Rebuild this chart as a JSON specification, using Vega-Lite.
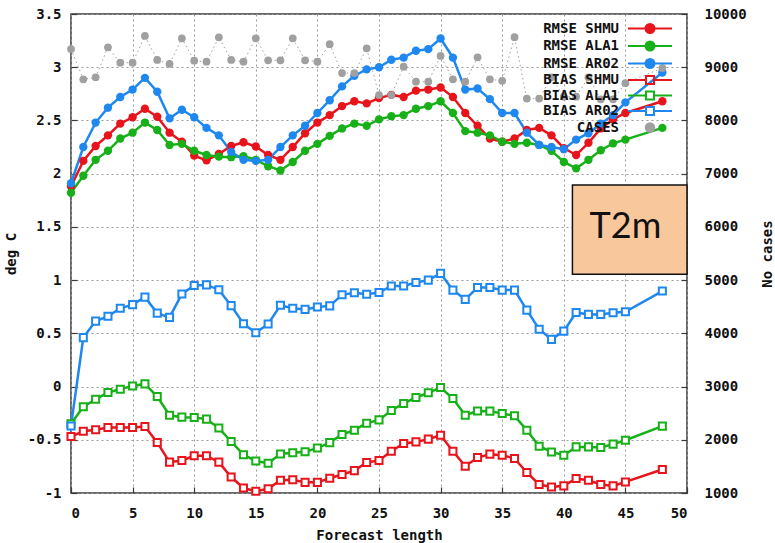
{
  "$schema": "https://vega.github.io/schema/vega-lite/v6.json",
  "width": 616,
  "height": 479,
  "autosize": {"type": "none"},
  "padding": {"left": 71, "top": 14, "right": 88, "bottom": 50},
  "background": "white",
  "config": {
    "view": {"stroke": "#3a3a3a", "strokeWidth": 1.5},
    "axis": {
      "labelFont": "DejaVu Sans Mono",
      "labelFontWeight": "bold",
      "labelFontSize": 14,
      "labelColor": "#111111",
      "titleFont": "DejaVu Sans Mono",
      "titleFontWeight": "bold",
      "titleFontSize": 14,
      "titleColor": "#111111",
      "domain": false,
      "tickColor": "#3a3a3a",
      "tickWidth": 1.2,
      "tickSize": -6,
      "gridColor": "#9a9a9a",
      "gridDash": [2, 3],
      "gridWidth": 1,
      "labelExpr": "'' + datum.value"
    }
  },
  "data": {
    "values": [
      {"h": 0, "series": "RMSE SHMU", "value": 1.88},
      {"h": 1, "series": "RMSE SHMU", "value": 2.12},
      {"h": 2, "series": "RMSE SHMU", "value": 2.26},
      {"h": 3, "series": "RMSE SHMU", "value": 2.36},
      {"h": 4, "series": "RMSE SHMU", "value": 2.47},
      {"h": 5, "series": "RMSE SHMU", "value": 2.53},
      {"h": 6, "series": "RMSE SHMU", "value": 2.61},
      {"h": 7, "series": "RMSE SHMU", "value": 2.535},
      {"h": 8, "series": "RMSE SHMU", "value": 2.385},
      {"h": 9, "series": "RMSE SHMU", "value": 2.3},
      {"h": 10, "series": "RMSE SHMU", "value": 2.17},
      {"h": 11, "series": "RMSE SHMU", "value": 2.125},
      {"h": 12, "series": "RMSE SHMU", "value": 2.185},
      {"h": 13, "series": "RMSE SHMU", "value": 2.26},
      {"h": 14, "series": "RMSE SHMU", "value": 2.295},
      {"h": 15, "series": "RMSE SHMU", "value": 2.255},
      {"h": 16, "series": "RMSE SHMU", "value": 2.175},
      {"h": 17, "series": "RMSE SHMU", "value": 2.13},
      {"h": 18, "series": "RMSE SHMU", "value": 2.25},
      {"h": 19, "series": "RMSE SHMU", "value": 2.38},
      {"h": 20, "series": "RMSE SHMU", "value": 2.48},
      {"h": 21, "series": "RMSE SHMU", "value": 2.55},
      {"h": 22, "series": "RMSE SHMU", "value": 2.635},
      {"h": 23, "series": "RMSE SHMU", "value": 2.68},
      {"h": 24, "series": "RMSE SHMU", "value": 2.66},
      {"h": 25, "series": "RMSE SHMU", "value": 2.71},
      {"h": 26, "series": "RMSE SHMU", "value": 2.74},
      {"h": 27, "series": "RMSE SHMU", "value": 2.72},
      {"h": 28, "series": "RMSE SHMU", "value": 2.78},
      {"h": 29, "series": "RMSE SHMU", "value": 2.79},
      {"h": 30, "series": "RMSE SHMU", "value": 2.81},
      {"h": 31, "series": "RMSE SHMU", "value": 2.72},
      {"h": 32, "series": "RMSE SHMU", "value": 2.57},
      {"h": 33, "series": "RMSE SHMU", "value": 2.45},
      {"h": 34, "series": "RMSE SHMU", "value": 2.33},
      {"h": 35, "series": "RMSE SHMU", "value": 2.3},
      {"h": 36, "series": "RMSE SHMU", "value": 2.33},
      {"h": 37, "series": "RMSE SHMU", "value": 2.41},
      {"h": 38, "series": "RMSE SHMU", "value": 2.43},
      {"h": 39, "series": "RMSE SHMU", "value": 2.36},
      {"h": 40, "series": "RMSE SHMU", "value": 2.24},
      {"h": 41, "series": "RMSE SHMU", "value": 2.175},
      {"h": 42, "series": "RMSE SHMU", "value": 2.29},
      {"h": 43, "series": "RMSE SHMU", "value": 2.425},
      {"h": 44, "series": "RMSE SHMU", "value": 2.51},
      {"h": 45, "series": "RMSE SHMU", "value": 2.57},
      {"h": 48, "series": "RMSE SHMU", "value": 2.68},

      {"h": 0, "series": "RMSE ALA1", "value": 1.82},
      {"h": 1, "series": "RMSE ALA1", "value": 1.98},
      {"h": 2, "series": "RMSE ALA1", "value": 2.13},
      {"h": 3, "series": "RMSE ALA1", "value": 2.215},
      {"h": 4, "series": "RMSE ALA1", "value": 2.33},
      {"h": 5, "series": "RMSE ALA1", "value": 2.385},
      {"h": 6, "series": "RMSE ALA1", "value": 2.48},
      {"h": 7, "series": "RMSE ALA1", "value": 2.41},
      {"h": 8, "series": "RMSE ALA1", "value": 2.27},
      {"h": 9, "series": "RMSE ALA1", "value": 2.28},
      {"h": 10, "series": "RMSE ALA1", "value": 2.215},
      {"h": 11, "series": "RMSE ALA1", "value": 2.175},
      {"h": 12, "series": "RMSE ALA1", "value": 2.16},
      {"h": 13, "series": "RMSE ALA1", "value": 2.155},
      {"h": 14, "series": "RMSE ALA1", "value": 2.165},
      {"h": 15, "series": "RMSE ALA1", "value": 2.13},
      {"h": 16, "series": "RMSE ALA1", "value": 2.07},
      {"h": 17, "series": "RMSE ALA1", "value": 2.03},
      {"h": 18, "series": "RMSE ALA1", "value": 2.11},
      {"h": 19, "series": "RMSE ALA1", "value": 2.215},
      {"h": 20, "series": "RMSE ALA1", "value": 2.28},
      {"h": 21, "series": "RMSE ALA1", "value": 2.355},
      {"h": 22, "series": "RMSE ALA1", "value": 2.425},
      {"h": 23, "series": "RMSE ALA1", "value": 2.47},
      {"h": 24, "series": "RMSE ALA1", "value": 2.45},
      {"h": 25, "series": "RMSE ALA1", "value": 2.51},
      {"h": 26, "series": "RMSE ALA1", "value": 2.54},
      {"h": 27, "series": "RMSE ALA1", "value": 2.55},
      {"h": 28, "series": "RMSE ALA1", "value": 2.61},
      {"h": 29, "series": "RMSE ALA1", "value": 2.635},
      {"h": 30, "series": "RMSE ALA1", "value": 2.68},
      {"h": 31, "series": "RMSE ALA1", "value": 2.57},
      {"h": 32, "series": "RMSE ALA1", "value": 2.4},
      {"h": 33, "series": "RMSE ALA1", "value": 2.385},
      {"h": 34, "series": "RMSE ALA1", "value": 2.36},
      {"h": 35, "series": "RMSE ALA1", "value": 2.3},
      {"h": 36, "series": "RMSE ALA1", "value": 2.28},
      {"h": 37, "series": "RMSE ALA1", "value": 2.29},
      {"h": 38, "series": "RMSE ALA1", "value": 2.27},
      {"h": 39, "series": "RMSE ALA1", "value": 2.215},
      {"h": 40, "series": "RMSE ALA1", "value": 2.11},
      {"h": 41, "series": "RMSE ALA1", "value": 2.05},
      {"h": 42, "series": "RMSE ALA1", "value": 2.13},
      {"h": 43, "series": "RMSE ALA1", "value": 2.22},
      {"h": 44, "series": "RMSE ALA1", "value": 2.285},
      {"h": 45, "series": "RMSE ALA1", "value": 2.32},
      {"h": 48, "series": "RMSE ALA1", "value": 2.43},

      {"h": 0, "series": "RMSE AR02", "value": 1.91},
      {"h": 1, "series": "RMSE AR02", "value": 2.25},
      {"h": 2, "series": "RMSE AR02", "value": 2.48},
      {"h": 3, "series": "RMSE AR02", "value": 2.62},
      {"h": 4, "series": "RMSE AR02", "value": 2.72},
      {"h": 5, "series": "RMSE AR02", "value": 2.79},
      {"h": 6, "series": "RMSE AR02", "value": 2.9},
      {"h": 7, "series": "RMSE AR02", "value": 2.77},
      {"h": 8, "series": "RMSE AR02", "value": 2.52},
      {"h": 9, "series": "RMSE AR02", "value": 2.6},
      {"h": 10, "series": "RMSE AR02", "value": 2.53},
      {"h": 11, "series": "RMSE AR02", "value": 2.43},
      {"h": 12, "series": "RMSE AR02", "value": 2.36},
      {"h": 13, "series": "RMSE AR02", "value": 2.205},
      {"h": 14, "series": "RMSE AR02", "value": 2.13},
      {"h": 15, "series": "RMSE AR02", "value": 2.12},
      {"h": 16, "series": "RMSE AR02", "value": 2.13},
      {"h": 17, "series": "RMSE AR02", "value": 2.25},
      {"h": 18, "series": "RMSE AR02", "value": 2.36},
      {"h": 19, "series": "RMSE AR02", "value": 2.45},
      {"h": 20, "series": "RMSE AR02", "value": 2.57},
      {"h": 21, "series": "RMSE AR02", "value": 2.69},
      {"h": 22, "series": "RMSE AR02", "value": 2.82},
      {"h": 23, "series": "RMSE AR02", "value": 2.92},
      {"h": 24, "series": "RMSE AR02", "value": 2.98},
      {"h": 25, "series": "RMSE AR02", "value": 3.0},
      {"h": 26, "series": "RMSE AR02", "value": 3.07},
      {"h": 27, "series": "RMSE AR02", "value": 3.09},
      {"h": 28, "series": "RMSE AR02", "value": 3.155},
      {"h": 29, "series": "RMSE AR02", "value": 3.17},
      {"h": 30, "series": "RMSE AR02", "value": 3.27},
      {"h": 31, "series": "RMSE AR02", "value": 3.09},
      {"h": 32, "series": "RMSE AR02", "value": 2.79},
      {"h": 33, "series": "RMSE AR02", "value": 2.8},
      {"h": 34, "series": "RMSE AR02", "value": 2.7},
      {"h": 35, "series": "RMSE AR02", "value": 2.57},
      {"h": 36, "series": "RMSE AR02", "value": 2.57},
      {"h": 37, "series": "RMSE AR02", "value": 2.385},
      {"h": 38, "series": "RMSE AR02", "value": 2.27},
      {"h": 39, "series": "RMSE AR02", "value": 2.25},
      {"h": 40, "series": "RMSE AR02", "value": 2.23},
      {"h": 41, "series": "RMSE AR02", "value": 2.32},
      {"h": 42, "series": "RMSE AR02", "value": 2.38},
      {"h": 43, "series": "RMSE AR02", "value": 2.47},
      {"h": 44, "series": "RMSE AR02", "value": 2.55},
      {"h": 45, "series": "RMSE AR02", "value": 2.67},
      {"h": 48, "series": "RMSE AR02", "value": 2.95},

      {"h": 0, "series": "BIAS SHMU", "value": -0.47},
      {"h": 1, "series": "BIAS SHMU", "value": -0.42},
      {"h": 2, "series": "BIAS SHMU", "value": -0.406},
      {"h": 3, "series": "BIAS SHMU", "value": -0.384},
      {"h": 4, "series": "BIAS SHMU", "value": -0.384},
      {"h": 5, "series": "BIAS SHMU", "value": -0.384},
      {"h": 6, "series": "BIAS SHMU", "value": -0.375},
      {"h": 7, "series": "BIAS SHMU", "value": -0.525},
      {"h": 8, "series": "BIAS SHMU", "value": -0.71},
      {"h": 9, "series": "BIAS SHMU", "value": -0.694},
      {"h": 10, "series": "BIAS SHMU", "value": -0.65},
      {"h": 11, "series": "BIAS SHMU", "value": -0.65},
      {"h": 12, "series": "BIAS SHMU", "value": -0.71},
      {"h": 13, "series": "BIAS SHMU", "value": -0.85},
      {"h": 14, "series": "BIAS SHMU", "value": -0.953},
      {"h": 15, "series": "BIAS SHMU", "value": -0.984},
      {"h": 16, "series": "BIAS SHMU", "value": -0.96},
      {"h": 17, "series": "BIAS SHMU", "value": -0.88},
      {"h": 18, "series": "BIAS SHMU", "value": -0.875},
      {"h": 19, "series": "BIAS SHMU", "value": -0.9},
      {"h": 20, "series": "BIAS SHMU", "value": -0.9},
      {"h": 21, "series": "BIAS SHMU", "value": -0.862},
      {"h": 22, "series": "BIAS SHMU", "value": -0.826},
      {"h": 23, "series": "BIAS SHMU", "value": -0.79},
      {"h": 24, "series": "BIAS SHMU", "value": -0.714},
      {"h": 25, "series": "BIAS SHMU", "value": -0.694},
      {"h": 26, "series": "BIAS SHMU", "value": -0.607},
      {"h": 27, "series": "BIAS SHMU", "value": -0.535},
      {"h": 28, "series": "BIAS SHMU", "value": -0.52},
      {"h": 29, "series": "BIAS SHMU", "value": -0.494},
      {"h": 30, "series": "BIAS SHMU", "value": -0.457},
      {"h": 31, "series": "BIAS SHMU", "value": -0.607},
      {"h": 32, "series": "BIAS SHMU", "value": -0.748},
      {"h": 33, "series": "BIAS SHMU", "value": -0.667},
      {"h": 34, "series": "BIAS SHMU", "value": -0.635},
      {"h": 35, "series": "BIAS SHMU", "value": -0.645},
      {"h": 36, "series": "BIAS SHMU", "value": -0.676},
      {"h": 37, "series": "BIAS SHMU", "value": -0.807},
      {"h": 38, "series": "BIAS SHMU", "value": -0.92},
      {"h": 39, "series": "BIAS SHMU", "value": -0.943},
      {"h": 40, "series": "BIAS SHMU", "value": -0.933},
      {"h": 41, "series": "BIAS SHMU", "value": -0.864},
      {"h": 42, "series": "BIAS SHMU", "value": -0.88},
      {"h": 43, "series": "BIAS SHMU", "value": -0.92},
      {"h": 44, "series": "BIAS SHMU", "value": -0.933},
      {"h": 45, "series": "BIAS SHMU", "value": -0.896},
      {"h": 48, "series": "BIAS SHMU", "value": -0.779},

      {"h": 0, "series": "BIAS ALA1", "value": -0.35},
      {"h": 1, "series": "BIAS ALA1", "value": -0.19},
      {"h": 2, "series": "BIAS ALA1", "value": -0.12},
      {"h": 3, "series": "BIAS ALA1", "value": -0.056},
      {"h": 4, "series": "BIAS ALA1", "value": -0.025},
      {"h": 5, "series": "BIAS ALA1", "value": 0.006},
      {"h": 6, "series": "BIAS ALA1", "value": 0.025},
      {"h": 7, "series": "BIAS ALA1", "value": -0.094},
      {"h": 8, "series": "BIAS ALA1", "value": -0.27},
      {"h": 9, "series": "BIAS ALA1", "value": -0.2875},
      {"h": 10, "series": "BIAS ALA1", "value": -0.29},
      {"h": 11, "series": "BIAS ALA1", "value": -0.306},
      {"h": 12, "series": "BIAS ALA1", "value": -0.39},
      {"h": 13, "series": "BIAS ALA1", "value": -0.516},
      {"h": 14, "series": "BIAS ALA1", "value": -0.64},
      {"h": 15, "series": "BIAS ALA1", "value": -0.7},
      {"h": 16, "series": "BIAS ALA1", "value": -0.72},
      {"h": 17, "series": "BIAS ALA1", "value": -0.633},
      {"h": 18, "series": "BIAS ALA1", "value": -0.622},
      {"h": 19, "series": "BIAS ALA1", "value": -0.612},
      {"h": 20, "series": "BIAS ALA1", "value": -0.578},
      {"h": 21, "series": "BIAS ALA1", "value": -0.527},
      {"h": 22, "series": "BIAS ALA1", "value": -0.45},
      {"h": 23, "series": "BIAS ALA1", "value": -0.41},
      {"h": 24, "series": "BIAS ALA1", "value": -0.344},
      {"h": 25, "series": "BIAS ALA1", "value": -0.313},
      {"h": 26, "series": "BIAS ALA1", "value": -0.225},
      {"h": 27, "series": "BIAS ALA1", "value": -0.159},
      {"h": 28, "series": "BIAS ALA1", "value": -0.103},
      {"h": 29, "series": "BIAS ALA1", "value": -0.059},
      {"h": 30, "series": "BIAS ALA1", "value": -0.009},
      {"h": 31, "series": "BIAS ALA1", "value": -0.112},
      {"h": 32, "series": "BIAS ALA1", "value": -0.269},
      {"h": 33, "series": "BIAS ALA1", "value": -0.23},
      {"h": 34, "series": "BIAS ALA1", "value": -0.231},
      {"h": 35, "series": "BIAS ALA1", "value": -0.253},
      {"h": 36, "series": "BIAS ALA1", "value": -0.275},
      {"h": 37, "series": "BIAS ALA1", "value": -0.41},
      {"h": 38, "series": "BIAS ALA1", "value": -0.56},
      {"h": 39, "series": "BIAS ALA1", "value": -0.614},
      {"h": 40, "series": "BIAS ALA1", "value": -0.645},
      {"h": 41, "series": "BIAS ALA1", "value": -0.567},
      {"h": 42, "series": "BIAS ALA1", "value": -0.567},
      {"h": 43, "series": "BIAS ALA1", "value": -0.573},
      {"h": 44, "series": "BIAS ALA1", "value": -0.541},
      {"h": 45, "series": "BIAS ALA1", "value": -0.504},
      {"h": 48, "series": "BIAS ALA1", "value": -0.372},

      {"h": 0, "series": "BIAS AR02", "value": -0.37},
      {"h": 1, "series": "BIAS AR02", "value": 0.46},
      {"h": 2, "series": "BIAS AR02", "value": 0.615},
      {"h": 3, "series": "BIAS AR02", "value": 0.66},
      {"h": 4, "series": "BIAS AR02", "value": 0.735},
      {"h": 5, "series": "BIAS AR02", "value": 0.77},
      {"h": 6, "series": "BIAS AR02", "value": 0.84},
      {"h": 7, "series": "BIAS AR02", "value": 0.69},
      {"h": 8, "series": "BIAS AR02", "value": 0.65},
      {"h": 9, "series": "BIAS AR02", "value": 0.87},
      {"h": 10, "series": "BIAS AR02", "value": 0.95},
      {"h": 11, "series": "BIAS AR02", "value": 0.955},
      {"h": 12, "series": "BIAS AR02", "value": 0.91},
      {"h": 13, "series": "BIAS AR02", "value": 0.76},
      {"h": 14, "series": "BIAS AR02", "value": 0.59},
      {"h": 15, "series": "BIAS AR02", "value": 0.505},
      {"h": 16, "series": "BIAS AR02", "value": 0.588},
      {"h": 17, "series": "BIAS AR02", "value": 0.763},
      {"h": 18, "series": "BIAS AR02", "value": 0.735},
      {"h": 19, "series": "BIAS AR02", "value": 0.725},
      {"h": 20, "series": "BIAS AR02", "value": 0.747},
      {"h": 21, "series": "BIAS AR02", "value": 0.758},
      {"h": 22, "series": "BIAS AR02", "value": 0.862},
      {"h": 23, "series": "BIAS AR02", "value": 0.882},
      {"h": 24, "series": "BIAS AR02", "value": 0.868},
      {"h": 25, "series": "BIAS AR02", "value": 0.883},
      {"h": 26, "series": "BIAS AR02", "value": 0.945},
      {"h": 27, "series": "BIAS AR02", "value": 0.944},
      {"h": 28, "series": "BIAS AR02", "value": 0.978},
      {"h": 29, "series": "BIAS AR02", "value": 1.0},
      {"h": 30, "series": "BIAS AR02", "value": 1.063},
      {"h": 31, "series": "BIAS AR02", "value": 0.906},
      {"h": 32, "series": "BIAS AR02", "value": 0.819},
      {"h": 33, "series": "BIAS AR02", "value": 0.93},
      {"h": 34, "series": "BIAS AR02", "value": 0.931},
      {"h": 35, "series": "BIAS AR02", "value": 0.906},
      {"h": 36, "series": "BIAS AR02", "value": 0.906},
      {"h": 37, "series": "BIAS AR02", "value": 0.718},
      {"h": 38, "series": "BIAS AR02", "value": 0.539},
      {"h": 39, "series": "BIAS AR02", "value": 0.443},
      {"h": 40, "series": "BIAS AR02", "value": 0.521},
      {"h": 41, "series": "BIAS AR02", "value": 0.696},
      {"h": 42, "series": "BIAS AR02", "value": 0.678},
      {"h": 43, "series": "BIAS AR02", "value": 0.678},
      {"h": 44, "series": "BIAS AR02", "value": 0.693},
      {"h": 45, "series": "BIAS AR02", "value": 0.702},
      {"h": 48, "series": "BIAS AR02", "value": 0.897},

      {"h": 0, "series": "CASES", "value": 9342},
      {"h": 1, "series": "CASES", "value": 8773},
      {"h": 2, "series": "CASES", "value": 8810},
      {"h": 3, "series": "CASES", "value": 9374},
      {"h": 4, "series": "CASES", "value": 9085},
      {"h": 5, "series": "CASES", "value": 9085},
      {"h": 6, "series": "CASES", "value": 9587},
      {"h": 7, "series": "CASES", "value": 9136},
      {"h": 8, "series": "CASES", "value": 9061},
      {"h": 9, "series": "CASES", "value": 9543},
      {"h": 10, "series": "CASES", "value": 9123},
      {"h": 11, "series": "CASES", "value": 9104},
      {"h": 12, "series": "CASES", "value": 9562},
      {"h": 13, "series": "CASES", "value": 9136},
      {"h": 14, "series": "CASES", "value": 9104},
      {"h": 15, "series": "CASES", "value": 9543},
      {"h": 16, "series": "CASES", "value": 9130},
      {"h": 17, "series": "CASES", "value": 9130},
      {"h": 18, "series": "CASES", "value": 9543},
      {"h": 19, "series": "CASES", "value": 9130},
      {"h": 20, "series": "CASES", "value": 9104},
      {"h": 21, "series": "CASES", "value": 9433},
      {"h": 22, "series": "CASES", "value": 8890},
      {"h": 23, "series": "CASES", "value": 8890},
      {"h": 24, "series": "CASES", "value": 9355},
      {"h": 25, "series": "CASES", "value": 8478},
      {"h": 26, "series": "CASES", "value": 8478},
      {"h": 27, "series": "CASES", "value": 9010},
      {"h": 28, "series": "CASES", "value": 8728},
      {"h": 29, "series": "CASES", "value": 8728},
      {"h": 30, "series": "CASES", "value": 9211},
      {"h": 31, "series": "CASES", "value": 8773},
      {"h": 32, "series": "CASES", "value": 8728},
      {"h": 33, "series": "CASES", "value": 9186},
      {"h": 34, "series": "CASES", "value": 8773},
      {"h": 35, "series": "CASES", "value": 8745},
      {"h": 36, "series": "CASES", "value": 9565},
      {"h": 37, "series": "CASES", "value": 8410},
      {"h": 38, "series": "CASES", "value": 8410},
      {"h": 39, "series": "CASES", "value": 8810},
      {"h": 40, "series": "CASES", "value": 8446},
      {"h": 41, "series": "CASES", "value": 8446},
      {"h": 42, "series": "CASES", "value": 8810},
      {"h": 43, "series": "CASES", "value": 8397},
      {"h": 44, "series": "CASES", "value": 8397},
      {"h": 45, "series": "CASES", "value": 8700},
      {"h": 48, "series": "CASES", "value": 8985}
    ]
  },
  "layer": [
    {
      "encoding": {
        "x": {
          "field": "h",
          "type": "quantitative",
          "scale": {"domain": [0, 50], "nice": false, "zero": false},
          "axis": {
            "title": "Forecast length",
            "values": [0, 5, 10, 15, 20, 25, 30, 35, 40, 45, 50],
            "grid": true,
            "labelPadding": 19,
            "titlePadding": 8
          }
        },
        "y": {
          "field": "value",
          "type": "quantitative",
          "scale": {"domain": [-1, 3.5], "nice": false, "zero": false},
          "axis": {
            "orient": "left",
            "title": "deg C",
            "values": [-1, -0.5, 0, 0.5, 1, 1.5, 2, 2.5, 3, 3.5],
            "grid": true,
            "labelPadding": 16,
            "titlePadding": 9
          }
        }
      },
      "layer": [
        {
          "transform": [{"filter": "datum.series != 'CASES'"}],
          "mark": {"type": "line", "strokeWidth": 2.5},
          "encoding": {
            "color": {
              "field": "series",
              "type": "nominal",
              "scale": {
                "domain": ["RMSE SHMU", "RMSE ALA1", "RMSE AR02", "BIAS SHMU", "BIAS ALA1", "BIAS AR02", "CASES"],
                "range": ["#e8141c", "#18b018", "#1e88f0", "#e8141c", "#18b018", "#1e88f0", "#a0a0a0"]
              },
              "legend": {
                "title": null,
                "orient": "none",
                "legendX": 572,
                "legendY": 7.5,
                "labelFont": "DejaVu Sans Mono",
                "labelFontWeight": "bold",
                "labelFontSize": 14,
                "labelColor": "#111111",
                "labelAlign": "right",
                "labelOffset": -38,
                "symbolSize": 100,
                "symbolStrokeWidth": 2,
                "rowPadding": -0.5,
                "encode": {
                  "symbols": {
                    "update": {
                      "shape": {"signal": "datum.value == 'CASES' ? 'M0.85,0A0.85,0.85,0,1,1,-0.85,0A0.85,0.85,0,1,1,0.85,0Z' : (indexof(datum.value, 'BIAS') == 0 ? 'M-4.4,0H-0.8M0.8,0H4.4M-0.8,-0.8H0.8V0.8H-0.8ZM-0.8,-0.8V0.8H0.8V-0.8Z' : 'M-4.4,0H4.4M0.9,0A0.9,0.9,0,1,1,-0.9,0A0.9,0.9,0,1,1,0.9,0Z')"},
                      "stroke": {"signal": "scale('color', datum.value)"},
                      "strokeDash": {"value": []},
                      "opacity": {"value": 1}
                    }
                  }
                }
              }
            }
          }
        },
        {
          "transform": [{"filter": "indexof(datum.series, 'RMSE') == 0"}],
          "mark": {"type": "point", "shape": "circle", "filled": true, "size": 70, "opacity": 1},
          "encoding": {"color": {"field": "series", "type": "nominal"}}
        },
        {
          "transform": [{"filter": "indexof(datum.series, 'BIAS') == 0"}],
          "mark": {"type": "point", "shape": "square", "filled": false, "fill": "white", "size": 50, "strokeWidth": 2, "opacity": 1},
          "encoding": {"color": {"field": "series", "type": "nominal"}}
        }
      ]
    },
    {
      "transform": [{"filter": "datum.series == 'CASES'"}],
      "encoding": {
        "x": {"field": "h", "type": "quantitative"},
        "y": {
          "field": "value",
          "type": "quantitative",
          "scale": {"domain": [1000, 10000], "nice": false, "zero": false},
          "axis": {
            "orient": "right",
            "title": "No cases",
            "values": [1000, 2000, 3000, 4000, 5000, 6000, 7000, 8000, 9000, 10000],
            "grid": false,
            "labelPadding": 23,
            "titleAngle": 270,
            "titleBaseline": "bottom",
            "titlePadding": 28
          }
        },
        "color": {"field": "series", "type": "nominal"}
      },
      "layer": [
        {"mark": {"type": "line", "strokeWidth": 1, "strokeDash": [1.5, 3]}},
        {"mark": {"type": "point", "shape": "circle", "filled": true, "size": 60, "opacity": 1}}
      ]
    },
    {
      "data": {"values": [{"label": "T2m"}]},
      "encoding": {
        "y": {
          "datum": 1.056,
          "type": "quantitative",
          "scale": {"domain": [-1, 3.5], "nice": false, "zero": false},
          "axis": null
        }
      },
      "layer": [
        {
          "mark": {"type": "rect", "fill": "#f8c89c", "stroke": "#111111", "strokeWidth": 1.5},
          "encoding": {
            "x": {"datum": 40.7, "type": "quantitative"},
            "x2": {"datum": 50},
            "y2": {"datum": 1.893}
          }
        },
        {
          "mark": {"type": "text", "font": "Lato", "fontSize": 36, "align": "center", "baseline": "alphabetic", "color": "#111111"},
          "encoding": {
            "x": {"datum": 45.0, "type": "quantitative"},
            "y": {"datum": 1.395, "type": "quantitative"},
            "text": {"field": "label"}
          }
        }
      ]
    }
  ],
  "resolve": {"scale": {"y": "independent"}}
}
